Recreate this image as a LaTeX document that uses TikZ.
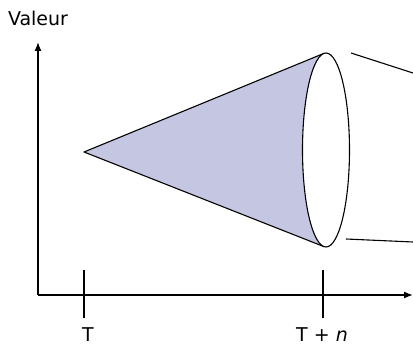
\documentclass[tikz,border=0pt]{standalone}
\usepackage{fontspec}
\setmainfont{DejaVu Sans}
\usetikzlibrary{arrows.meta,calc}
\definecolor{conefill}{RGB}{197,199,226}
\begin{document}
\begin{tikzpicture}[x=1pt,y=1pt,
  axis/.style={line width=1.3pt,-{Latex[length=9pt,width=7pt]}},
  tick/.style={line width=1.1pt},
  edge/.style={line width=1.1pt,line join=round},
  lbl/.style={font=\fontsize{19}{21}\selectfont,inner sep=0pt,anchor=base}]
\useasboundingbox (0,0) rectangle (413,346);
\coordinate (O) at (38,51);
\coordinate (Ytop) at (38,304);
\coordinate (Xend) at (413,51);
\coordinate (A) at (84,194);
\coordinate (C) at (326,196);
\coordinate (Ttop) at (84,76);
\coordinate (Tbot) at (84,28);
\coordinate (Ntop) at (323,76);
\coordinate (Nbot) at (323,28);
% cone fill
\fill[conefill] (A) -- ($(C)+(95.6:23.5 and 97)$) arc[start angle=95.6,end angle=264.4,x radius=23.5,y radius=97] -- cycle;
\draw[edge] ($(C)+(95.6:23.5 and 97)$) coordinate (E1) -- (A) -- ($(C)+(264.4:23.5 and 97)$) coordinate (E2);
\draw[edge,fill=white] (C) ellipse[x radius=23.5,y radius=97];
% outer lines
\coordinate (R1a) at (351,293);
\coordinate (R1b) at (413,273);
\coordinate (R2a) at (346,107);
\coordinate (R2b) at (413,104);
\draw[edge] (R1a) -- (R1b);
\draw[edge] (R2a) -- (R2b);
% axes
\draw[axis] (O) -- (Ytop);
\draw[axis] (O) -- (Xend);
\draw[tick] (Ttop) -- (Tbot);
\draw[tick] (Ntop) -- (Nbot);
\node[lbl] (val) at (38,320) {Valeur};
\node[lbl] (T) at (88,5) {T};
\node[lbl] (Tn) at (322,5) {T + \textit{n}};
\end{tikzpicture}
\end{document}
